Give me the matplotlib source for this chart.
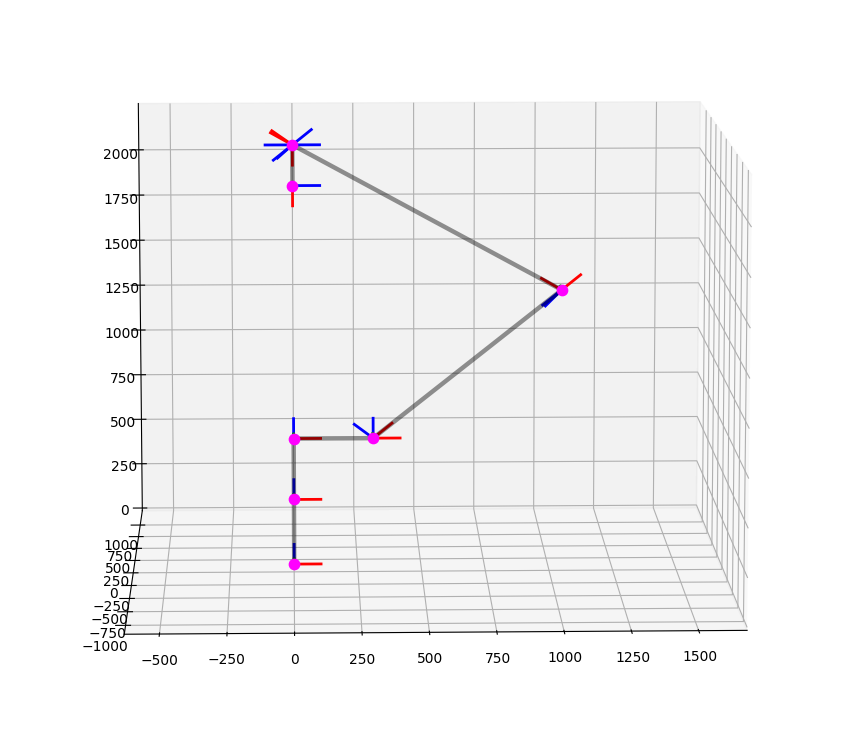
import numpy as np
import matplotlib
matplotlib.use("Agg")
import matplotlib.pyplot as plt

joint_x = [0, 0, 0, 295, 993, 0, 0]
joint_y = [-1000, -1000, -1000, -1000, -1000, -1000, -1000]
joint_z = [291, 618, 925, 925, 1663, 2186, 2387]
links = [(0, 1), (1, 2), (2, 3), (3, 4), (4, 6), (6, 5)]

frame_joint = [0, 0, 1, 1, 2, 2, 3, 3, 3, 3, 4, 4, 4, 4, 5, 5, 6, 6, 6, 6, 6, 6, 6, 6]
frame_dx = [100, 0, 100, 0, 100, 0, 100, 70, 0, -70, 70, -75, -75, -70, -60, 100, 0, -75, -80, 0, 100, -100, 70, -70, -55][:0] or \
           [100, 0, 100, 0, 100, 0, 100, 70, 0, -70, 70, -75, -70, -60, 100, 0, -75, -80, 0, 100, -100, 70, -70, -55]
frame_dz = [0, 100, 0, 100, 0, 100, 0, 75, 100, 70, 75, 58, -75, -80, 0, -100, 70, 60, -100, 0, 0, 75, -75, -65]
frame_col = ['r','b','r','b','r','b','r','r','b','b','r','r','b','b','b','r','r','r','r','b','b','b','b','b']

fig = plt.figure(figsize=(8.49, 7.55), dpi=100)
W, H = 1.078, 1.212
ax = fig.add_axes([0.5 - W/2 - 0.011, 0.5 - H/2 + 0.015, W, H], projection='3d')
ax.view_init(elev=9.6, azim=-91.6)
ax.set_box_aspect((4, 4, 2.95))
for j, dx, dz, c in zip(frame_joint, frame_dx, frame_dz, frame_col):
    ax.plot([joint_x[j], joint_x[j]+dx], [joint_y[j], joint_y[j]],
            [joint_z[j], joint_z[j]+dz], color=c, lw=2)
for j in range(len(joint_x)):
    ax.plot([joint_x[j], joint_x[j]], [joint_y[j], joint_y[j]+100],
            [joint_z[j], joint_z[j]], color='g', lw=2)
for a, b in links:
    ax.plot([joint_x[a], joint_x[b]], [joint_y[a], joint_y[b]], [joint_z[a], joint_z[b]],
            color='k', alpha=0.42, lw=3.2)
ax.scatter(joint_x, joint_y, joint_z, color='magenta', s=55, depthshade=False)
ax.set_xlim(-630, 1680, view_margin=0)
ax.set_ylim(-1160, 1320, view_margin=0)
ax.set_zlim(-15, 2255, view_margin=0)
ax.set_xticks(np.arange(-500, 1501, 250))
ax.set_yticks(np.arange(-1000, 1001, 250))
ax.set_zticks(np.arange(0, 2001, 250))
fig.savefig("out.png", dpi=100)
